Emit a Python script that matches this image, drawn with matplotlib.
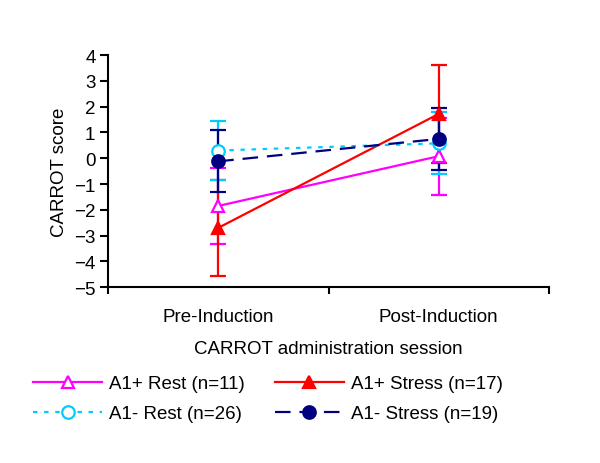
import matplotlib
matplotlib.use("Agg")
import matplotlib.pyplot as plt
from matplotlib.lines import Line2D

plt.rcParams['font.family'] = ['Liberation Sans', 'DejaVu Sans']

# data
sessions = ["Pre-Induction", "Post-Induction"]
labels = ["A1+ Rest (n=11)", "A1+ Stress (n=17)", "A1- Rest (n=26)", "A1- Stress (n=19)"]
a1p_rest = [-1.85, 0.08]
a1p_rest_err = [1.46, 1.5]
a1p_stress = [-2.7, 1.72]
a1p_stress_err = [1.86, 1.9]
a1m_rest = [0.3, 0.58]
a1m_rest_err = [1.15, 1.2]
a1m_stress = [-0.12, 0.75]
a1m_stress_err = [1.2, 1.2]

series = [
    (a1p_rest, a1p_rest_err, "#FF00FF", "-", "^", "white"),
    (a1p_stress, a1p_stress_err, "#FF0000", "-", "^", "#FF0000"),
    (a1m_rest, a1m_rest_err, "#00CCFF", (0, (2, 3)), "o", "white"),
    (a1m_stress, a1m_stress_err, "#000080", (0, (7, 4)), "o", "#000080"),
]

fs = 13.5
fig = plt.figure(figsize=(6, 4.64), dpi=100)
ax = fig.add_axes([0.18, 0.379, 0.735, 0.5])

x = [0.5, 1.5]
handles = []
for (vals, errs, col, ls, mk, fc), lab in zip(series, labels):
    ax.errorbar(x, vals, yerr=errs, color=col, linestyle=ls, linewidth=1.6,
                marker=mk, markersize=9, markerfacecolor=fc, markeredgecolor=col,
                markeredgewidth=1.6, capsize=6, capthick=1.6, elinewidth=1.6)
    handles.append(Line2D([], [], color=col, linestyle=ls, linewidth=1.6, marker=mk,
                          markersize=9, markerfacecolor=fc, markeredgecolor=col,
                          markeredgewidth=1.6, label=lab))

ax.set_xlim(0, 2)
ax.set_ylim(-5, 4)
ax.set_yticks(range(-5, 5))
ax.set_xticks([0, 1, 2])
ax.set_xticklabels([])
ax.set_xticks(x, minor=True)
ax.set_xticklabels(sessions, minor=True, fontsize=fs)
ax.tick_params(axis='x', which='minor', length=0, pad=15)
ax.tick_params(axis='x', which='major', direction='out', length=5, width=1.5)
ax.tick_params(axis='y', direction='out', length=6, width=1.5, labelsize=fs, pad=3)
for s in ['top', 'right']:
    ax.spines[s].set_visible(False)
for s in ['left', 'bottom']:
    ax.spines[s].set_linewidth(1.5)

ax.set_ylabel("CARROT score", fontsize=fs, labelpad=4)
ax.set_xlabel("CARROT administration session", fontsize=fs, labelpad=11)

fig.legend(handles=[handles[0], handles[2], handles[1], handles[3]], ncol=2,
           loc='upper left', bbox_to_anchor=(0.027, 0.226), frameon=False,
           fontsize=fs, handlelength=3.7, handletextpad=0.35, columnspacing=1.6,
           labelspacing=0.7)

fig.savefig("out.png", dpi=100)
